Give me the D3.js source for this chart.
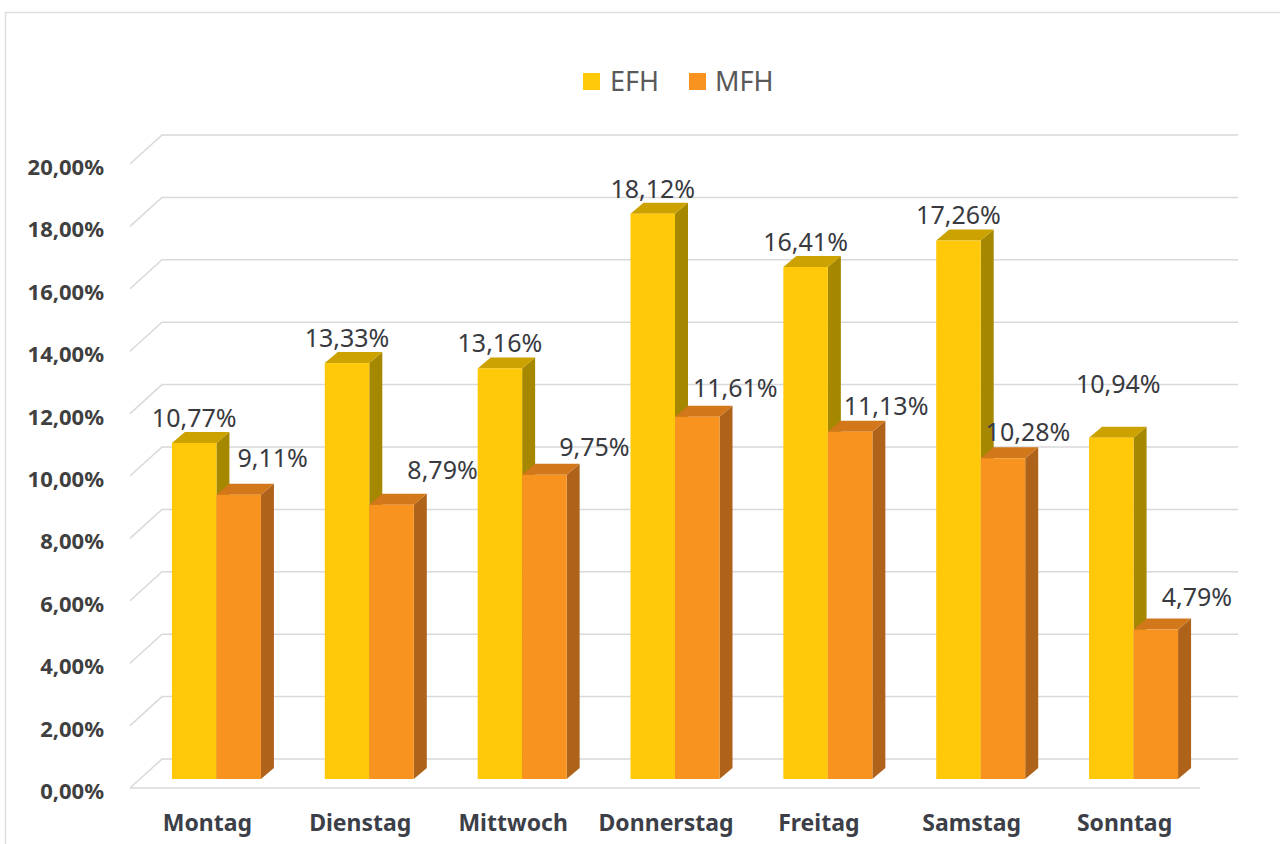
<!DOCTYPE html>
<html>
<head>
<meta charset="utf-8">
<script src="https://cdn.jsdelivr.net/npm/d3@7/dist/d3.min.js"></script>
<style>
  html, body { margin: 0; padding: 0; background: #ffffff; }
  svg { display: block; }
</style>
</head>
<body>
<svg id="chart" width="1280" height="844"></svg>
<script>
// ---- data ----
const categories = ["Montag", "Dienstag", "Mittwoch", "Donnerstag", "Freitag", "Samstag", "Sonntag"];
const seriesNames = ["EFH", "MFH"];
const efhValues = [10.77, 13.33, 13.16, 18.12, 16.41, 17.26, 10.94];
const mfhValues = [9.11, 8.79, 9.75, 11.61, 11.13, 10.28, 4.79];
const yTicks = [0, 2, 4, 6, 8, 10, 12, 14, 16, 18, 20];

// label nudges (manual placement in the original), [dx, dy] in px
const efhLabelNudge = [[0,0],[0,0],[0,0],[0,0],[0,0],[0,0],[7,-29]];
const mfhLabelNudge = [[-4,-7],[13,-5],[12,2],[0,1],[-2,4],[-13,4],[3,-3]];

// ---- layout ----
const W = 1280, H = 844;
const frontLeft = 130, frontRight = 1200, frontY = 788;   // front floor edge
const wallDX = 32, wallDY = 29;                             // front -> back wall offset
const barShiftX = 10, barY0 = 779;                          // bar plane
const depthDX = 13, depthDY = 11;                           // bar depth
const colors = {
  EFH: { front: "#FFC90A", top: "#CCA200", side: "#A58700" },
  MFH: { front: "#F7931E", top: "#D2771A", side: "#AE621A" }
};

const svg = d3.select("#chart");
const loc = d3.formatLocale({ decimal: ",", thousands: ".", grouping: [3], currency: ["", " €"] });
const fmt = v => loc.format(".2f")(v) + "%";

// border of chart area
svg.append("path")
  .attr("d", `M5.5,${H} L5.5,12.5 L${W},12.5`)
  .attr("fill", "none").attr("stroke", "#dddddd").attr("stroke-width", 1.5);

// scales
const x = d3.scaleBand().domain(categories).range([frontLeft, frontRight]).paddingInner(0).paddingOuter(0);
const barW = 44.5;
const xs = d3.scaleBand().domain(seriesNames)
  .range([x.bandwidth() / 2 - barW, x.bandwidth() / 2 + barW]).padding(0);
const h = d3.scaleLinear().domain([0, 20]).range([0, 624]);

// gridlines (back wall + left wall)
const grid = svg.append("g").attr("stroke", "#d9d9d9").attr("stroke-width", 1.5).attr("fill", "none");
yTicks.forEach(t => {
  const fy = frontY - h(t);
  const by = fy - wallDY;
  grid.append("path")
    .attr("d", `M${frontLeft},${fy} L${frontLeft + wallDX},${by} L${frontRight + wallDX + 6},${by}`);
});
// floor front edge
grid.append("path").attr("d", `M${frontLeft},${frontY} L${frontRight},${frontY}`);

// y axis labels
svg.append("g").selectAll("text").data(yTicks).join("text")
  .attr("x", 104)
  .attr("y", t => frontY - h(t) + 2)
  .attr("text-anchor", "end")
  .attr("dominant-baseline", "central")
  .attr("font-family", "'Noto Sans', sans-serif")
  .attr("font-weight", "bold")
  .attr("font-size", 22)
  .attr("fill", "#404040")
  .text(t => fmt(t));

// category labels
svg.append("g").selectAll("text").data(categories).join("text")
  .attr("x", c => x(c) + x.bandwidth() / 2 + 1)
  .attr("y", 831)
  .attr("text-anchor", "middle")
  .attr("font-family", "'Noto Sans', sans-serif")
  .attr("font-weight", "bold")
  .attr("font-size", 23)
  .attr("fill", "#3c3f48")
  .text(c => c);

// bars
const bars = svg.append("g");
const allSeries = { EFH: efhValues, MFH: mfhValues };
categories.forEach((c, i) => {
  seriesNames.forEach(s => {
    const v = allSeries[s][i];
    const x0 = x(c) + barShiftX + xs(s);
    const w = xs.bandwidth();
    const yTop = barY0 - h(v);
    const col = colors[s];
    const g = bars.append("g");
    g.append("polygon")
      .attr("points", [[x0 + w, yTop], [x0 + w + depthDX, yTop - depthDY], [x0 + w + depthDX, barY0 - depthDY], [x0 + w, barY0]].join(" "))
      .attr("fill", col.side);
    g.append("polygon")
      .attr("points", [[x0, yTop], [x0 + depthDX, yTop - depthDY], [x0 + w + depthDX, yTop - depthDY], [x0 + w, yTop]].join(" "))
      .attr("fill", col.top);
    g.append("rect")
      .attr("x", x0).attr("y", yTop).attr("width", w).attr("height", h(v))
      .attr("fill", col.front);
  });
});

// data labels
const labels = svg.append("g")
  .attr("font-family", "'Noto Sans', sans-serif")
  .attr("font-size", 25)
  .attr("fill", "#383a40")
  .attr("text-anchor", "middle");
categories.forEach((c, i) => {
  const w = xs.bandwidth();
  // EFH
  {
    const v = efhValues[i];
    const x0 = x(c) + barShiftX + xs("EFH");
    const faceTop = barY0 - h(v) - depthDY;
    const n = efhLabelNudge[i];
    labels.append("text")
      .attr("x", x0 + w / 2 + n[0])
      .attr("y", faceTop - 5 + n[1])
      .text(fmt(v));
  }
  // MFH
  {
    const v = mfhValues[i];
    const x0 = x(c) + barShiftX + xs("MFH");
    const faceTop = barY0 - h(v) - depthDY;
    const n = mfhLabelNudge[i];
    labels.append("text")
      .attr("x", x0 + w / 2 + 38 + n[0])
      .attr("y", faceTop - 10 + n[1])
      .text(fmt(v));
  }
});

// legend
const legend = svg.append("g");
const legendItems = [
  { name: "EFH", sx: 583, tx: 610 },
  { name: "MFH", sx: 689, tx: 715 }
];
legendItems.forEach(d => {
  legend.append("rect").attr("x", d.sx).attr("y", 73).attr("width", 17).attr("height", 17)
    .attr("fill", colors[d.name].front);
  legend.append("text").attr("x", d.tx).attr("y", 91)
    .attr("font-family", "'Noto Sans', sans-serif")
    .attr("font-size", 27)
    .attr("fill", "#595959")
    .text(d.name);
});
</script>
</body>
</html>
